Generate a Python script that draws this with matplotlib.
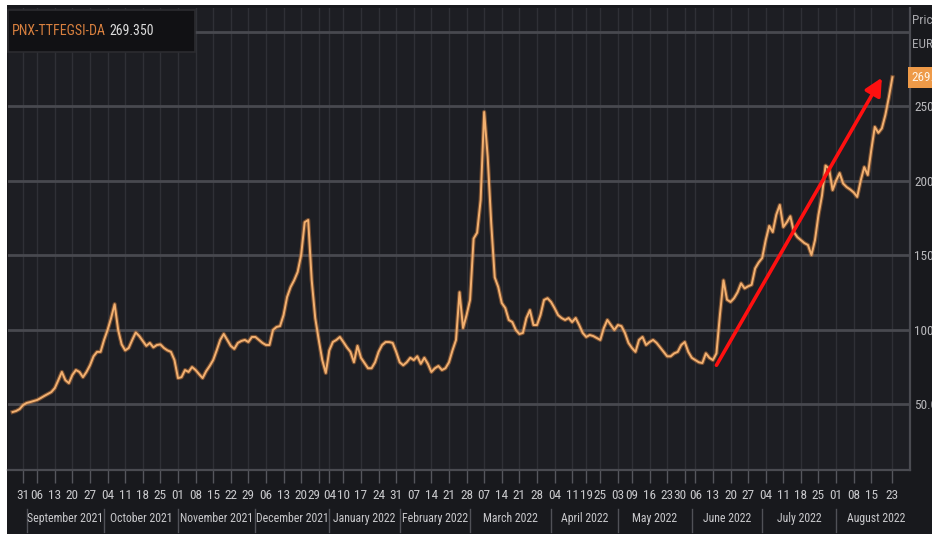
import numpy as np
import matplotlib
matplotlib.use("Agg")
import matplotlib.pyplot as plt
import matplotlib.transforms as mtrans
from matplotlib.patches import Rectangle
from matplotlib import font_manager

# ---------------- data ----------------
holidays = ["2021-08-30", "2021-12-27", "2021-12-28", "2022-01-03", "2022-04-15",
            "2022-04-18", "2022-05-02", "2022-06-02", "2022-06-03"]

dates = [
    "2021-08-25", "2021-08-26", "2021-08-27", "2021-08-31", "2021-09-01", "2021-09-02", "2021-09-03",
    "2021-09-06", "2021-09-07", "2021-09-08", "2021-09-09", "2021-09-10",
    "2021-09-13", "2021-09-14", "2021-09-15", "2021-09-16", "2021-09-17",
    "2021-09-20", "2021-09-21", "2021-09-22", "2021-09-23", "2021-09-24",
    "2021-09-27", "2021-09-28", "2021-09-29", "2021-09-30", "2021-10-01",
    "2021-10-04", "2021-10-05", "2021-10-06", "2021-10-07", "2021-10-08",
    "2021-10-11", "2021-10-12", "2021-10-13", "2021-10-14", "2021-10-15",
    "2021-10-18", "2021-10-19", "2021-10-20", "2021-10-21", "2021-10-22",
    "2021-10-25", "2021-10-26", "2021-10-27", "2021-10-28", "2021-10-29",
    "2021-11-01", "2021-11-02", "2021-11-03", "2021-11-04", "2021-11-05",
    "2021-11-08", "2021-11-09", "2021-11-10", "2021-11-11", "2021-11-12",
    "2021-11-15", "2021-11-16", "2021-11-17", "2021-11-18", "2021-11-19",
    "2021-11-22", "2021-11-23", "2021-11-24", "2021-11-25", "2021-11-26",
    "2021-11-29", "2021-11-30", "2021-12-01", "2021-12-02", "2021-12-03",
    "2021-12-06", "2021-12-07", "2021-12-08", "2021-12-09", "2021-12-10",
    "2021-12-13", "2021-12-14", "2021-12-15", "2021-12-16", "2021-12-17",
    "2021-12-20", "2021-12-21", "2021-12-22", "2021-12-23", "2021-12-24",
    "2021-12-29", "2021-12-30", "2021-12-31",
    "2022-01-04", "2022-01-05", "2022-01-06", "2022-01-07",
    "2022-01-10", "2022-01-11", "2022-01-12", "2022-01-13", "2022-01-14",
    "2022-01-17", "2022-01-18", "2022-01-19", "2022-01-20", "2022-01-21",
    "2022-01-24", "2022-01-25", "2022-01-26", "2022-01-27", "2022-01-28",
    "2022-01-31", "2022-02-01", "2022-02-02", "2022-02-03", "2022-02-04",
    "2022-02-07", "2022-02-08", "2022-02-09", "2022-02-10", "2022-02-11",
    "2022-02-14", "2022-02-15", "2022-02-16", "2022-02-17", "2022-02-18",
    "2022-02-21", "2022-02-22", "2022-02-23", "2022-02-24", "2022-02-25",
    "2022-02-28", "2022-03-01", "2022-03-02", "2022-03-03", "2022-03-04",
    "2022-03-07", "2022-03-08", "2022-03-09", "2022-03-10", "2022-03-11",
    "2022-03-14", "2022-03-15", "2022-03-16", "2022-03-17", "2022-03-18",
    "2022-03-21", "2022-03-22", "2022-03-23", "2022-03-24", "2022-03-25",
    "2022-03-28", "2022-03-29", "2022-03-30", "2022-03-31", "2022-04-01",
    "2022-04-04", "2022-04-05", "2022-04-06", "2022-04-07", "2022-04-08",
    "2022-04-11", "2022-04-12", "2022-04-13", "2022-04-14",
    "2022-04-19", "2022-04-20", "2022-04-21", "2022-04-22",
    "2022-04-25", "2022-04-26", "2022-04-27", "2022-04-28", "2022-04-29",
    "2022-05-03", "2022-05-04", "2022-05-05", "2022-05-06",
    "2022-05-09", "2022-05-10", "2022-05-11", "2022-05-12", "2022-05-13",
    "2022-05-16", "2022-05-17", "2022-05-18", "2022-05-19", "2022-05-20",
    "2022-05-23", "2022-05-24", "2022-05-25", "2022-05-26", "2022-05-27",
    "2022-05-30", "2022-05-31", "2022-06-01",
    "2022-06-06", "2022-06-07", "2022-06-08", "2022-06-09", "2022-06-10",
    "2022-06-13", "2022-06-14", "2022-06-15", "2022-06-16", "2022-06-17",
    "2022-06-20", "2022-06-21", "2022-06-22", "2022-06-23", "2022-06-24",
    "2022-06-27", "2022-06-28", "2022-06-29", "2022-06-30", "2022-07-01",
    "2022-07-04", "2022-07-05", "2022-07-06", "2022-07-07", "2022-07-08",
    "2022-07-11", "2022-07-12", "2022-07-13", "2022-07-14", "2022-07-15",
    "2022-07-18", "2022-07-19", "2022-07-20", "2022-07-21", "2022-07-22",
    "2022-07-25", "2022-07-26", "2022-07-27", "2022-07-28", "2022-07-29",
    "2022-08-01", "2022-08-02", "2022-08-03", "2022-08-04", "2022-08-05",
    "2022-08-08", "2022-08-09", "2022-08-10", "2022-08-11", "2022-08-12",
    "2022-08-15", "2022-08-16", "2022-08-17", "2022-08-18", "2022-08-19",
    "2022-08-22", "2022-08-23",
]

prices = [
    44.6, 45.3, 46.6, 49.3, 50.7, 51.3, 52.0,
    52.7, 54.0, 55.4, 56.7, 58.0,
    60.7, 66.0, 71.5, 66.0, 64.0,
    69.5, 72.8, 71.5, 68.0, 71.5,
    76.0, 82.0, 85.0, 85.0, 93.0,
    99.7, 107.7, 117.0, 99.7, 90.0,
    86.0, 87.6, 93.0, 98.0, 95.6,
    92.3, 89.0, 91.0, 88.0, 89.6,
    90.0, 87.6, 86.0, 85.0, 79.5,
    67.4, 68.0, 72.8, 71.5, 74.8,
    72.8, 70.0, 67.4, 72.0, 75.5,
    79.5, 86.0, 93.0, 97.0, 93.0,
    89.0, 87.0, 91.0, 92.3, 93.0,
    91.6, 95.0, 95.0, 93.0, 91.0,
    89.6, 89.6, 99.7, 101.7, 102.3,
    109.7, 121.8, 128.5, 133.0, 138.6,
    150.0, 172.0, 173.5, 133.0, 107.7,
    93.0, 79.5, 70.8,
    86.0, 91.6, 93.0, 95.0,
    91.6, 88.0, 85.0, 78.0, 89.0,
    81.0, 77.5, 74.0, 74.0, 78.0,
    85.0, 89.6, 91.6, 91.6, 91.0,
    85.0, 78.0, 76.0, 78.0, 81.0,
    79.5, 82.0, 77.0, 81.0, 77.0,
    71.5, 74.0, 75.5, 72.8, 74.0,
    78.0, 86.0, 93.0, 125.0, 101.0,
    109.7, 120.0, 161.0, 165.0, 187.0,
    246.0, 216.0, 171.5, 135.0, 128.5,
    117.8, 114.4, 106.4, 105.0, 99.7,
    97.0, 97.7, 107.7, 113.0, 103.0,
    103.0, 109.7, 119.8, 121.0, 118.5,
    114.4, 109.7, 107.7, 106.4, 107.7,
    105.0, 107.7, 103.0, 97.7,
    95.0, 96.3, 95.6, 94.3,
    93.0, 101.0, 106.4, 103.0, 99.7,
    103.0, 102.3, 97.7, 91.0,
    87.6, 85.0, 93.0, 95.0, 89.6,
    91.6, 93.0, 91.0, 88.0, 85.0,
    82.0, 82.0, 84.0, 85.0, 89.6,
    91.6, 85.0, 81.0,
    79.5, 78.0, 77.5, 84.0, 81.0,
    79.5, 84.0, 110.0, 133.0, 120.0,
    118.5, 121.0, 125.0, 131.0, 127.6,
    129.0, 130.0, 141.0, 145.0, 148.0,
    160.0, 169.5, 165.4, 177.0, 183.6,
    168.8, 172.0, 176.0, 165.4, 162.0,
    160.0, 158.0, 156.7, 150.0, 160.0,
    177.0, 190.0, 210.0, 208.0, 193.6,
    200.0, 205.0, 198.0, 195.6, 194.0,
    192.0, 189.0, 200.0, 209.0, 203.7,
    220.5, 236.0, 232.0, 235.0, 244.0,
    256.0, 269.35,
]

tick_dates = [
    "2021-08-31", "2021-09-06", "2021-09-13", "2021-09-20", "2021-09-27",
    "2021-10-04", "2021-10-11", "2021-10-18", "2021-10-25",
    "2021-11-01", "2021-11-08", "2021-11-15", "2021-11-22", "2021-11-29",
    "2021-12-06", "2021-12-13", "2021-12-20", "2021-12-29",
    "2022-01-04", "2022-01-10", "2022-01-17", "2022-01-24", "2022-01-31",
    "2022-02-07", "2022-02-14", "2022-02-21", "2022-02-28",
    "2022-03-07", "2022-03-14", "2022-03-21", "2022-03-28",
    "2022-04-04", "2022-04-11", "2022-04-19", "2022-04-25",
    "2022-05-03", "2022-05-09", "2022-05-16", "2022-05-23", "2022-05-30",
    "2022-06-06", "2022-06-13", "2022-06-20", "2022-06-27",
    "2022-07-04", "2022-07-11", "2022-07-18", "2022-07-25",
    "2022-08-01", "2022-08-08", "2022-08-15", "2022-08-23",
]
tick_labels = [d[-2:] for d in tick_dates]

month_labels = ["September 2021", "October 2021", "November 2021", "December 2021",
                "January 2022", "February 2022", "March 2022", "April 2022",
                "May 2022", "June 2022", "July 2022", "August 2022"]
month_starts = ["2021-09-01", "2021-10-01", "2021-11-01", "2021-12-01",
                "2022-01-04", "2022-02-01", "2022-03-01", "2022-04-01",
                "2022-05-03", "2022-06-01", "2022-07-01", "2022-08-01", "2022-09-01"]

y_ticks = [50, 100, 150, 200, 250, 300]
y_labels = ["50.00", "100.00", "150.00", "200.00", "250.00", ""]

ric = "PNX-TTFEGSI-DA"
last_text = "269.350"
arrow_start = ("2022-06-14", 76.0)
arrow_end = ("2022-08-18", 269.0)

# ---------------- helpers ----------------
hol = np.array(holidays, dtype="datetime64[D]")
base = np.datetime64("2021-08-24")


def bidx(ds):
    d = np.array(ds, dtype="datetime64[D]")
    return np.busday_count(base, d, holidays=hol)


# pick a narrow family if one is installed
installed = {f.name for f in font_manager.fontManager.ttflist}
narrow = [n for n in ["Roboto Condensed", "Liberation Sans Narrow", "Open Sans Condensed",
                      "Noto Sans Condensed", "DejaVu Sans Condensed"] if n in installed]
FAM = narrow[:1] + ["Roboto", "DejaVu Sans"]
CONDENSED = bool(narrow)
plt.rcParams["font.family"] = FAM
FS_DAY = 9.5 if CONDENSED else 8.5
FS_MON = 8.5 if CONDENSED else 7.5
FS_Y = 9.5 if CONDENSED else 9.0

W, H = 932, 534
fig = plt.figure(figsize=(W / 100, H / 100), dpi=100, facecolor="white")

# dark canvas (white margin at top / left as in the screenshot)
fig.patches.append(Rectangle((7 / W, 0), 1, (H - 5) / H, transform=fig.transFigure,
                             facecolor="#18191d", edgecolor="none", zorder=-10))

ax = fig.add_axes([8 / W, (H - 470) / H, (910 - 8) / W, (470 - 8) / H])
ax.set_facecolor("#1d1e23")

x = bidx(dates)
xt = bidx(tick_dates)

ax.set_xlim(-0.3, 256.0)
ax.set_ylim(5.7, 315.8)

# grid
for t in xt:
    ax.axvline(t, color="#2f3036", lw=1.0, zorder=1)
for v in y_ticks:
    ax.axhline(v, color="#48494f", lw=2.0, zorder=1)

# price line (glow + core)
ax.plot(x, prices, color="#c97a3c", lw=3.0, alpha=0.5, zorder=3, solid_joinstyle="round")
ax.plot(x, prices, color="#f2b070", lw=1.4, zorder=4, solid_joinstyle="round")

# arrow
ax.annotate("", xy=(bidx(arrow_end[0]), arrow_end[1]),
            xytext=(bidx(arrow_start[0]), arrow_start[1]),
            arrowprops=dict(arrowstyle="-|>", color="#ff1010", lw=2.6,
                            mutation_scale=26, shrinkA=0, shrinkB=0),
            zorder=6)

# spines
for s in ["top", "left"]:
    ax.spines[s].set_visible(False)
for s in ["bottom", "right"]:
    ax.spines[s].set_color("#4a4b51")
    ax.spines[s].set_linewidth(1.6)

# x ticks
ax.set_xticks(xt)
ax.set_xticklabels(tick_labels, fontsize=FS_DAY, color="#c9c9cc")
ax.tick_params(axis="x", length=9, width=1, color="#55565c", pad=5)

# nudge the left label of ticks that sit very close together
labs = ax.get_xticklabels()
for i in range(len(xt) - 1):
    if xt[i + 1] - xt[i] <= 3:
        labs[i].set_transform(labs[i].get_transform() +
                              mtrans.ScaledTranslation(-3.5 / 72, 0, fig.dpi_scale_trans))

# y ticks on right
ax.yaxis.tick_right()
ax.set_yticks(y_ticks)
ax.set_yticklabels(y_labels, fontsize=FS_Y, color="#b9b9bc")
ax.tick_params(axis="y", length=0, pad=3)

# month labels and separators
ms = bidx(month_starts)
trans = ax.get_xaxis_transform()
for i, lab in enumerate(month_labels):
    c = 0.5 * (ms[i] + ms[i + 1])
    ax.text(c, -0.106, lab, transform=trans, ha="center", va="center",
            fontsize=FS_MON, color="#c9c9cc", clip_on=False)
for m in ms[:-1]:
    ax.plot([m, m], [-0.085, -0.135], transform=trans, color="#505157",
            lw=1, clip_on=False)

# right header "Price / EUR"
fig.text(912 / W, 1 - 20 / H, "Price", fontsize=FS_Y, color="#a9a9ad",
         ha="left", va="center")
fig.text(912 / W, 1 - 45 / H, "EUR", fontsize=FS_Y, color="#a9a9ad",
         ha="left", va="center")

# last value tag
ax.text(1.002, prices[-1], last_text, transform=ax.get_yaxis_transform(),
        fontsize=FS_Y, color="#fff4e6", ha="left", va="center", clip_on=False,
        bbox=dict(boxstyle="square,pad=0.3", facecolor="#ee9a48", edgecolor="none"))

# top-left info box
fig.patches.append(Rectangle((8 / W, 1 - 52 / H), (195 - 8) / W, (52 - 10) / H,
                             transform=fig.transFigure, facecolor="#111114",
                             edgecolor="#2c2c30", lw=1.2, zorder=5))
t1 = fig.text(12 / W, 1 - 31 / H, ric, fontsize=10, color="#d8803f",
              ha="left", va="center", zorder=6)
fig.canvas.draw()
bb = t1.get_window_extent()
fig.text((bb.x1 + 4) / W, 1 - 31 / H, last_text, fontsize=10, color="#dcdcdc",
         ha="left", va="center", zorder=6)

fig.savefig("out.png", dpi=100, facecolor=fig.get_facecolor())
